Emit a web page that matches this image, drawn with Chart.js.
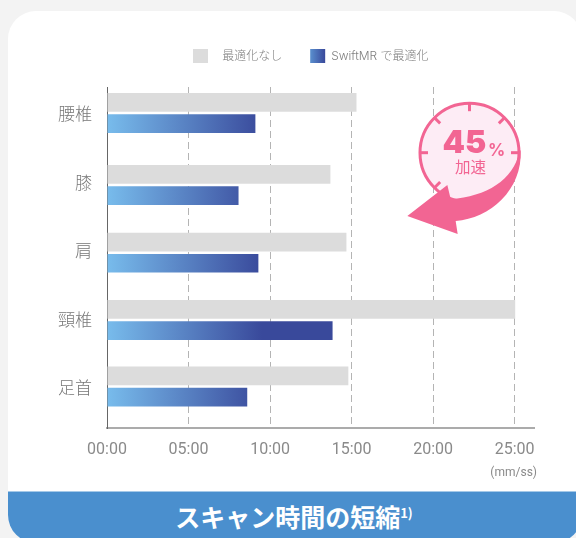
<!DOCTYPE html>
<html lang="ja">
<head>
<meta charset="utf-8">
<title>スキャン時間の短縮</title>
<script src="https://cdn.jsdelivr.net/npm/chart.js@4"></script>
<style>
  html, body { margin: 0; height: 100%; overflow: hidden; background: #f3f3f3; }
  .card {
    position: absolute; left: 8px; top: 11px; width: 574px; height: 532px;
    background: #fff; border-radius: 28px; overflow: hidden;
  }
  .band {
    position: absolute; left: 0; right: 0; top: 480px; bottom: 0;
    background: #4a8fce; border-top: 1px solid #a5c9e8;
  }
  .band-title {
    position: absolute; left: 6px; width: 576px; top: 491px; height: 47px;
    text-align: center; color: #fff;
    font: 700 25px/50px "Noto Sans CJK JP", sans-serif;
  }
  .band-title sup { font-size: 13px; line-height: 0; vertical-align: 9px; }
  .chart-wrap { position: absolute; left: 0; top: 0; width: 576px; height: 538px; }
  canvas { display: block; }
</style>
</head>
<body>
<div class="card"><div class="band"></div></div>
<div class="band-title">スキャン時間の短縮<sup>1)</sup></div>
<div class="chart-wrap"><canvas id="chart" width="576" height="538"></canvas></div>
<script>
  const categories = ["腰椎", "膝", "肩", "頸椎", "足首"];
  const seriesNames = ["最適化なし", "SwiftMR で最適化"];
  // 秒で持つ (軸ラベルは mm:ss)
  const standardSeconds = [918, 822, 881, 1502, 888];
  const swiftSeconds = [546, 484, 557, 830, 516];
  const tickSeconds = [0, 300, 600, 900, 1200, 1500];
  const axisMaxSeconds = 1573;
  const gaugePercent = "45";
  const gaugeLabel = "加速";
  const unitLabel = "(mm/ss)";

  const colors = {
    gray: "#dcdcdc",
    gradFrom: "#78bcec",
    gradTo: "#39499b",
    text: "#8a8a8a",
    legendText: "#808080",
    pink: "#f26593",
    pinkPale: "#fdecf5",
    grid: "#b4b4b4",
  };

  const fontJa = '"Noto Sans CJK JP", sans-serif';

  function pad2(n) {
    return String(n).padStart(2, "0");
  }

  function barGradient(chart) {
    const x = chart.scales.x;
    if (!x) return colors.gradTo;
    const g = chart.ctx.createLinearGradient(x.getPixelForValue(0), 0, x.getPixelForValue(570), 0);
    g.addColorStop(0, colors.gradFrom);
    g.addColorStop(1, colors.gradTo);
    return g;
  }

  // 凡例をカードの中の位置へ寄せる
  const legendShift = {
    id: "legendShift",
    afterLayout(chart) {
      const l = chart.legend;
      const dx = 179 - l.left - (l.width - l.lineWidths[0]) / 2;
      l.left += dx;
      l.right += dx;
      l.top -= 14;
      l.bottom -= 14;
    },
  };

  // 元の図は行の間隔が少し不揃いなので棒だけ数px寄せる
  const rowNudge = [-0.7, 2.8, 2, 0.9, -1.1];
  const rowAlign = {
    id: "rowAlign",
    afterDatasetsUpdate(chart) {
      chart.data.datasets.forEach((_, d) => {
        chart.getDatasetMeta(d).data.forEach((bar, i) => {
          bar.y += rowNudge[i];
        });
      });
    },
  };

  // 右上の時計マークと単位
  const annotations = {
    id: "annotations",
    afterDraw(chart) {
      const ctx = chart.ctx;
      const zx = (v) => 390 + v / 3;
      const zy = (v) => 90 + v / 3;
      const cx = 469.5;
      const cy = 152.7;
      const r = 49.5;
      ctx.save();

      ctx.beginPath();
      ctx.arc(cx, cy, r, 0, Math.PI * 2);
      ctx.fillStyle = colors.pinkPale;
      ctx.fill();
      ctx.lineWidth = 3;
      ctx.strokeStyle = colors.pink;
      ctx.stroke();

      [-90, -45, -135, 0, 180, 135].forEach((deg) => {
        const a = (deg * Math.PI) / 180;
        ctx.beginPath();
        ctx.moveTo(cx + Math.cos(a) * r, cy + Math.sin(a) * r);
        ctx.lineTo(cx + Math.cos(a) * (r - 8), cy + Math.sin(a) * (r - 8));
        ctx.stroke();
      });

      ctx.beginPath();
      ctx.moveTo(zx(392), zy(180));
      ctx.bezierCurveTo(zx(398), zy(300), zx(300), zy(385), zx(197), zy(393));
      ctx.lineTo(zx(203), zy(432));
      ctx.lineTo(zx(52), zy(378));
      ctx.lineTo(zx(172), zy(285));
      ctx.lineTo(zx(182), zy(327));
      ctx.bezierCurveTo(zx(290), zy(320), zx(370), zy(270), zx(388), zy(186));
      ctx.closePath();
      ctx.fillStyle = colors.pink;
      ctx.fill();

      ctx.textBaseline = "alphabetic";
      ctx.textAlign = "left";
      ctx.font = "900 32px Inter, sans-serif";
      ctx.fillText(gaugePercent, 442.5, 153);
      ctx.font = "700 17px Inter, sans-serif";
      ctx.fillText("%", 488, 155.5);
      ctx.textAlign = "center";
      ctx.font = "400 15.5px " + fontJa;
      ctx.fillText(gaugeLabel, 470.5, 172.5);

      ctx.textAlign = "right";
      ctx.fillStyle = colors.text;
      ctx.font = "400 12px Roboto, sans-serif";
      ctx.fillText(unitLabel, 537, 476);
      ctx.restore();
    },
  };

  new Chart(document.getElementById("chart"), {
    type: "bar",
    data: {
      datasets: [
        {
          label: seriesNames[0],
          data: standardSeconds.map((v, i) => ({ x: v, y: i })),
          backgroundColor: colors.gray,
        },
        {
          label: seriesNames[1],
          data: swiftSeconds.map((v, i) => ({ x: v, y: i })),
          backgroundColor: (ctx) => barGradient(ctx.chart),
        },
      ],
    },
    options: {
      indexAxis: "y",
      responsive: false,
      animation: false,
      categoryPercentage: 0.62,
      barPercentage: 0.88,
      layout: { padding: { top: 35, right: 41.5, left: 0, bottom: 0 } },
      plugins: {
        tooltip: { enabled: false },
        legend: {
          position: "top",
          onClick: null,
          labels: {
            boxWidth: 15,
            boxHeight: 14,
            padding: 28,
            font: { size: 12, family: "Inter, " + fontJa, weight: "300" },
            generateLabels(chart) {
              const g = chart.ctx.createLinearGradient(310, 0, 325, 0);
              g.addColorStop(0, "#5a90cf");
              g.addColorStop(1, colors.gradTo);
              return [
                { text: "\u2002\u2009" + seriesNames[0], fillStyle: colors.gray, fontColor: colors.legendText, lineWidth: 0, strokeStyle: "transparent", datasetIndex: 0 },
                { text: seriesNames[1], fillStyle: g, fontColor: colors.legendText, lineWidth: 0, strokeStyle: "transparent", datasetIndex: 1 },
              ];
            },
          },
        },
      },
      scales: {
        x: {
          type: "linear",
          min: 0,
          max: axisMaxSeconds,
          afterBuildTicks(scale) {
            scale.ticks = tickSeconds.map((value) => ({ value }));
          },
          afterFit(scale) {
            scale.height = 110;
          },
          grid: { color: colors.grid, drawTicks: false, lineWidth: 1 },
          border: { color: "#ababab", width: 2, dash: [7, 4] },
          ticks: {
            autoSkip: false,
            padding: 12,
            color: colors.text,
            maxRotation: 0,
            font: { size: 16, family: "Roboto, sans-serif", weight: "400" },
            callback(v) {
              return pad2(Math.floor(v / 60)) + ":" + pad2(v % 60);
            },
          },
        },
        y: {
          type: "linear",
          reverse: true,
          offset: false,
          min: -0.39,
          max: 4.59,
          afterFit(scale) {
            scale.width = 107;
          },
          grid: { display: false, offset: false },
          border: { color: "#666666", width: 1 },
          ticks: {
            stepSize: 1,
            includeBounds: false,
            padding: 7,
            color: "#777777",
            font: { size: 17, family: fontJa, weight: "300" },
            callback(v) {
              return categories[v];
            },
          },
        },
      },
    },
    plugins: [legendShift, rowAlign, annotations],
  });
</script>
</body>
</html>
